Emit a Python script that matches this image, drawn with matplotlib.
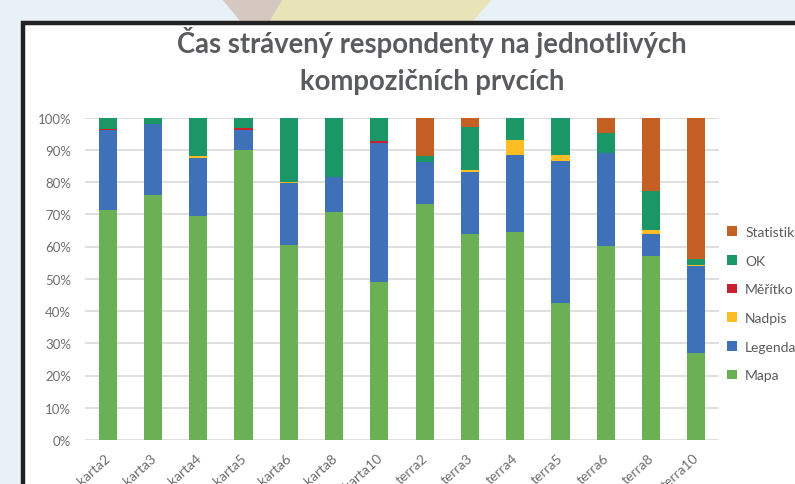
import matplotlib
matplotlib.use('Agg')
import matplotlib.pyplot as plt
from matplotlib.patches import Rectangle, Polygon
from matplotlib.transforms import ScaledTranslation
import numpy as np

plt.rcParams['font.family'] = ['Lato', 'DejaVu Sans']

categories = ['karta2', 'karta3', 'karta4', 'karta5', 'karta6', 'karta8', 'karta10',
              'terra2', 'terra3', 'terra4', 'terra5', 'terra6', 'terra8', 'terra10']

# percent shares, one list per series
mapa = [71.3, 76.0, 69.5, 90.0, 60.4, 70.6, 48.9, 73.1, 63.8, 64.4, 42.6, 60.2, 57.2, 27.0]
legenda = [24.7, 22.0, 17.9, 6.0, 19.4, 10.8, 43.3, 13.0, 19.3, 24.0, 43.9, 28.9, 6.8, 27.0]
nadpis = [0.0, 0.0, 0.8, 0.0, 0.2, 0.0, 0.0, 0.0, 0.6, 4.6, 1.8, 0.0, 1.2, 0.4]
meritko = [0.5, 0.0, 0.0, 0.8, 0.0, 0.0, 0.4, 0.2, 0.0, 0.0, 0.0, 0.0, 0.0, 0.0]
ok = [3.5, 2.0, 11.8, 3.2, 20.0, 18.6, 7.4, 1.8, 13.2, 7.0, 11.7, 6.0, 11.9, 1.7]
statistika = [0.0, 0.0, 0.0, 0.0, 0.0, 0.0, 0.0, 11.9, 3.1, 0.0, 0.0, 4.9, 22.9, 43.9]

series = ['Mapa', 'Legenda', 'Nadpis', 'Měřítko', 'OK', 'Statistika']
values = [mapa, legenda, nadpis, meritko, ok, statistika]
colors = ['#6CB056', '#3E71B8', '#FDBD24', '#C8202E', '#1A9667', '#C46024']

W, H = 795, 485
fig = plt.figure(figsize=(W / 100, H / 100), dpi=100, facecolor='#E8F1F5')

# backdrop: the slide behind the chart, in pixel coordinates
bg = fig.add_axes([0, 0, 1, 1], zorder=0)
bg.set_xlim(0, W)
bg.set_ylim(H, 0)
bg.axis('off')
bg.add_patch(Polygon([(222, 0), (283, 0), (270, 22), (240, 22)], color='#D5C8C0', lw=0))
bg.add_patch(Polygon([(283, 0), (492, 0), (473, 22), (270, 22)], color='#E9E3B8', lw=0))
bg.add_patch(Rectangle((23, 24), W, H, facecolor='white', edgecolor='#222222', lw=3.2))

ax = fig.add_axes([85 / W, 1 - 441 / H, (719 - 85) / W, (441 - 118.5) / H], zorder=1)
ax.patch.set_alpha(0)

x = np.arange(len(categories))
bottom = np.zeros(len(categories))
for name, vals, color in zip(series, values, colors):
    ax.bar(x, vals, width=0.4, bottom=bottom, color=color, label=name, zorder=3)
    bottom += np.array(vals)

ax.set_xlim(-0.5, len(categories) - 0.5)
ax.set_ylim(0, 100)
ax.set_yticks(np.arange(0, 101, 10))
ax.set_yticklabels([f'{v}%' for v in range(0, 101, 10)], fontsize=9.5, color='#6E6E6E')
ax.set_xticks(x)
ax.set_xticklabels(categories, rotation=42, ha='right', rotation_mode='anchor',
                   fontsize=10, color='#6E6E6E')
ax.tick_params(length=0, axis='y', pad=10)
ax.tick_params(length=0, axis='x', pad=8)
# the slanted labels sit a little left of their bars
shift = ScaledTranslation(-3 / 100, 0, fig.dpi_scale_trans)
for label in ax.get_xticklabels():
    label.set_transform(label.get_transform() + shift)
ax.grid(axis='y', color='#D6D6D6', lw=1.1, zorder=0)
for s in ax.spines.values():
    s.set_visible(False)

fig.text(432 / W, 1 - 61 / H, 'Čas strávený respondenty na jednotlivých\nkompozičních prvcích',
         ha='center', va='center', fontsize=19.8, fontweight='bold', color='#595B5E', linespacing=1.56)

handles, labels = ax.get_legend_handles_labels()
leg = fig.legend(handles[::-1], labels[::-1], loc='upper left', bbox_to_anchor=(727 / W, 1 - 227 / H),
                 frameon=False, fontsize=10, labelcolor='#5A5A5A', handlelength=0.7, handleheight=0.7,
                 handletextpad=0.6, labelspacing=1.2, borderpad=0, borderaxespad=0)

plt.savefig('out.png', dpi=100)
